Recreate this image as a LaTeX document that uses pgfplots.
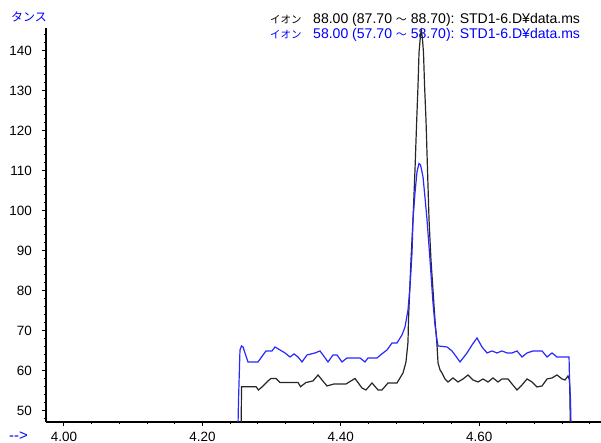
\documentclass[border=0pt]{standalone}
\usepackage{fontspec}
\setmainfont{Liberation Sans}
\newfontfamily\cjk{Noto Sans CJK JP}
\usepackage{pgfplots}
\pgfplotsset{compat=1.18}
\definecolor{txtblue}{RGB}{0,0,255}
\definecolor{lnblue}{RGB}{40,40,255}

\begin{document}
\begin{tikzpicture}[x=1bp,y=1bp]
\useasboundingbox (0,0) rectangle (601,443);
% labels outside the axis
\node[anchor=west, inner sep=0pt, text=txtblue, font=\cjk\fontsize{12}{12}\selectfont] at (11,426.5) {タンス};
\node[anchor=west, inner sep=0pt, text=txtblue, font=\fontsize{15}{15}\selectfont] at (9,6.5) {-{}-{}>};
% trace titles
\node[anchor=base west, inner sep=0pt, font=\cjk\fontsize{10.5}{10.5}\selectfont] at (270,419.7) {イオン};
\node[anchor=base west, inner sep=0pt, font=\fontsize{14.1}{14.1}\selectfont] at (313,419.7)
  {88.00 (87.70 {\cjk\fontsize{11}{11}\selectfont ～} 88.70): STD1-6.D¥data.ms};
\node[anchor=base west, inner sep=0pt, text=txtblue, font=\cjk\fontsize{10.5}{10.5}\selectfont] at (270,404.7) {イオン};
\node[anchor=base west, inner sep=0pt, text=txtblue, font=\fontsize{14.1}{14.1}\selectfont] at (313,404.7)
  {58.00 (57.70 {\cjk\fontsize{11}{11}\selectfont ～} 58.70): STD1-6.D¥data.ms};

\begin{axis}[
    at={(46bp,21bp)}, anchor=south west,
    scale only axis,
    width=555bp, height=394bp,
    xmin=3.974, xmax=4.776,
    ymin=47.125, ymax=145.6,
    axis x line=bottom, axis y line=left,
    axis line style={-, line width=1.5bp},
    tick align=outside,
    major tick length=4bp, minor tick length=2.5bp,
    every tick/.style={black, line width=1bp},
    xtick={4.0,4.2,4.4,4.6},
    minor xtick={4.04,4.08,4.12,4.16,4.24,4.28,4.32,4.36,4.44,4.48,4.52,4.56,4.64,4.68,4.72,4.76},
    ytick={50,60,...,140},
    minor ytick={48,52,54,56,58,62,64,66,68,72,74,76,78,82,84,86,88,92,94,96,98,102,104,106,108,112,114,116,118,122,124,126,128,132,134,136,138,142,144},
    /pgf/number format/assume math mode=true,
    xticklabel style={/pgf/number format/fixed, /pgf/number format/fixed zerofill, /pgf/number format/precision=2},
    xticklabel style={anchor=north, inner sep=0pt, font=\fontsize{13.5}{13.5}\selectfont},
    yticklabel style={anchor=east, inner sep=0pt, font=\fontsize{13.5}{13.5}\selectfont},
    xticklabel shift=6bp,
    yticklabel shift=10bp,
    scaled x ticks=false,
]
% ion 88
\addplot[black!85, line width=1.2bp] coordinates {
(4.2558,40) (4.2565,55.95) (4.2775,55.95) (4.2811,55.13) (4.2861,55.88) (4.2948,57.38)
(4.2991,58.0) (4.3064,58.0) (4.3121,57.0) (4.3382,57.0) (4.3418,55.95) (4.3497,57.0)
(4.3598,57.38) (4.3671,58.88) (4.3728,57.63) (4.3801,56.13) (4.3902,56.63) (4.4075,56.63)
(4.4205,58.0) (4.4306,55.63) (4.4364,55.13) (4.4451,56.88) (4.4538,55.13) (4.4595,55.13)
(4.4682,56.88) (4.4812,56.88) (4.4899,59.38) (4.4942,62.13) (4.4971,67.13) (4.4978,72.63)
(4.5014,87.63) (4.5043,97.63) (4.5072,110.13) (4.5097,122.63) (4.5116,131.38) (4.5130,139.38)
(4.5152,143.88) (4.5166,144.9) (4.5181,142.63) (4.5195,139.4) (4.5210,131.38) (4.5231,122.63)
(4.5253,110.13) (4.5275,97.63) (4.5303,87.63) (4.5332,80.13) (4.5361,72.63) (4.5390,66.38)
(4.5405,61.88) (4.5434,60.13) (4.5462,59.38) (4.5506,57.88) (4.5549,57.13) (4.5621,58.13)
(4.5694,57.13) (4.5766,57.88) (4.5838,58.88) (4.5910,57.63) (4.5983,57.13) (4.6055,57.88)
(4.6127,57.13) (4.6199,58.13) (4.6272,57.13) (4.6329,57.88) (4.6416,57.88) (4.6474,56.63)
(4.6546,55.13) (4.6618,56.38) (4.6691,57.88) (4.6763,57.13) (4.6835,55.88) (4.6908,56.13)
(4.6980,57.88) (4.7052,58.13) (4.7124,58.88) (4.7197,57.88) (4.7240,57.63) (4.7283,58.63)
(4.7305,57.63) (4.7312,52.63) (4.7319,40)
};
% ion 58
\addplot[lnblue, line width=1.2bp] coordinates {
(4.2507,40) (4.2522,52.63) (4.2543,65.13) (4.2565,66.13) (4.2587,65.88) (4.2659,62.13)
(4.2803,62.13) (4.2919,64.88) (4.3006,64.88) (4.3049,65.88) (4.3121,65.13) (4.3194,64.38)
(4.3266,63.38) (4.3324,64.13) (4.3382,63.38) (4.3439,62.13) (4.3512,63.88) (4.3627,64.38)
(4.3699,64.88) (4.3743,63.88) (4.3815,62.13) (4.3887,63.88) (4.3945,63.88) (4.4017,62.13)
(4.4090,63.13) (4.4277,63.13) (4.4350,62.13) (4.4393,63.13) (4.4523,63.13) (4.4610,64.38)
(4.4668,65.13) (4.4740,66.88) (4.4812,66.88) (4.4884,68.88) (4.4928,70.88) (4.4971,75.13)
(4.5000,80.88) (4.5029,89.38) (4.5043,97.63) (4.5072,104.38) (4.5101,109.63) (4.5130,111.75)
(4.5152,111.38) (4.5188,108.38) (4.5217,103.13) (4.5246,97.63) (4.5289,87.63) (4.5332,76.88)
(4.5361,71.38) (4.5390,67.63) (4.5405,66.13) (4.5535,65.88) (4.5607,64.88) (4.5723,62.13)
(4.5824,64.38) (4.5896,66.38) (4.5968,68.13) (4.6040,65.88) (4.6113,64.38) (4.6185,64.88)
(4.6257,64.38) (4.6329,64.88) (4.6402,64.38) (4.6474,64.38) (4.6546,64.88) (4.6618,63.38)
(4.6691,64.38) (4.6777,64.88) (4.6908,64.88) (4.6980,63.38) (4.7052,64.38) (4.7124,63.38)
(4.7197,63.38) (4.7298,63.38) (4.7305,57.63) (4.7319,52.63) (4.7334,40)
};
\end{axis}
\end{tikzpicture}
\end{document}
